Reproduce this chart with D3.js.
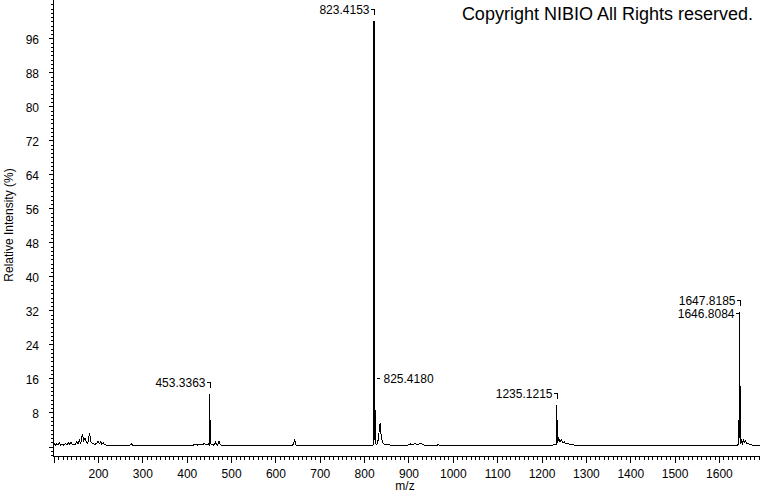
<!DOCTYPE html>
<html>
<head>
<meta charset="utf-8">
<script src="https://cdn.jsdelivr.net/npm/d3@7"></script>
<style>
  body { margin: 0; background: #fff; }
  svg { display: block; font-family: "Liberation Sans", Arial, sans-serif; }
  .axis text { font-size: 12px; fill: #000; }
  .axis line, .axis path { stroke: #000; shape-rendering: crispEdges; }
</style>
</head>
<body>
<div id="chart"></div>
<script>
// Mass spectrum (profile trace)

const width = 760
const height = 492

// trace points: m/z and relative intensity (%)
const traceMz = [
  100, 103, 105, 108, 111, 114, 117, 121, 124, 128, 131, 134, 137, 140, 143, 147, 150, 153, 156, 159,
  162, 166, 169, 172, 175, 178, 182, 185, 188, 191, 194, 198, 201, 204, 207, 210, 213, 216, 220, 230,
  272, 276, 280, 415, 422, 426, 432, 437, 441, 445, 450, 452.8, 453.3, 453.8, 454.3, 454.8, 455.3, 456,
  462, 466, 468, 471, 474, 477, 482, 638, 642, 644.5, 647, 650,
  818, 822.9, 823.4, 823.9, 824.4, 824.9, 825.4, 825.9, 826.4, 827, 830, 833, 835, 837, 839, 841, 843,
  846, 850, 855, 860, 880, 900, 905, 909, 913, 917, 921, 925, 929, 933, 937, 950, 966, 968, 970,
  1225, 1230, 1234.6, 1235.1, 1235.6, 1236.1, 1236.6, 1237.1, 1238, 1240, 1243, 1246, 1249, 1252,
  1256, 1260, 1265, 1270, 1275, 1285,
  1640, 1645, 1646.3, 1646.8, 1647.3, 1647.8, 1648.3, 1648.8, 1649.3, 1649.8, 1650.5, 1652, 1654,
  1656, 1658, 1661, 1664, 1667, 1671, 1680, 1693
]
const traceInt = [
  0.3, 0.6, 0.2, 0.5, 0.3, 0.7, 0.2, 0.4, 0.2, 0.6, 0.3, 0.8, 0.4, 0.9, 0.3, 0.5, 0.3, 1.0, 0.5, 1.4,
  0.6, 2.9, 1.2, 1.9, 0.8, 0.6, 3.0, 1.0, 0.7, 0.5, 0.4, 0.6, 1.2, 0.5, 1.0, 0.4, 0.7, 0.3, 0.2, 0.15,
  0.15, 0.5, 0.15, 0.15, 0.5, 0.2, 0.4, 0.3, 0.6, 0.3, 0.5, 0.2, 12.3, 0.5, 6.0, 0.4, 1.5, 0.3,
  0.2, 1.0, 0.3, 0.2, 1.1, 0.3, 0.15, 0.15, 0.4, 1.6, 0.3, 0.15,
  0.15, 0.3, 100, 2.0, 56, 1.5, 16, 1.0, 4.5, 0.5, 0.4, 1.5, 3.5, 5.3, 3.0, 1.5, 0.8,
  0.5, 0.3, 0.35, 0.2, 0.15, 0.2, 0.5, 0.2, 0.4, 0.6, 0.3, 0.5, 0.7, 0.3, 0.2, 0.15, 0.2, 0.5, 0.15,
  0.15, 0.3, 0.3, 9.6, 0.5, 6.0, 0.8, 2.5, 1.0, 1.9, 1.0, 1.5, 0.8, 1.0,
  0.5, 0.7, 0.3, 0.4, 0.2, 0.15,
  0.15, 0.3, 0.4, 28.5, 3.0, 31.5, 2.0, 14, 1.0, 4.0, 0.5, 1.2, 0.6,
  1.5, 0.8, 1.2, 0.5, 0.7, 0.3, 0.2, 0.15
]

// peak annotations
const labelMz = [453.3363, 823.4153, 825.4180, 1235.1215, 1646.8084, 1647.8185]
const labelInt = [12.3, 100, 16, 9.6, 28.5, 31.5]
const labelSide = ['left', 'left', 'right', 'left', 'left', 'left']

// ticks
const xMajorTicks = d3.range(100, 1700, 100)
const xMinorTicks = d3.range(100, 1700, 10)
const xTickLabels = d3.range(200, 1700, 100)
const yMajorTicks = d3.range(0, 97, 8)
const yMinorTicks = d3.range(-2, 105, 1)

const svg = d3.select('#chart')
  .append('svg')
  .attr('width', width)
  .attr('height', height)

const x = d3.scaleLinear().domain([99.6, 1693.7]).range([53, 760])
const y = d3.scaleLinear().domain([-2.35, 104.9]).range([456, 0])

const axisX = 53.5
const axisY = 456.5

// Y axis
svg.append('g')
  .attr('class', 'axis')
  .attr('transform', `translate(${axisX}, 0.5)`)
  .call(d3.axisLeft(y).tickValues(yMinorTicks).tickSize(3).tickFormat(''))
  .call(g => g.select('.domain').remove())

svg.append('g')
  .attr('class', 'axis')
  .attr('transform', `translate(${axisX}, 0.5)`)
  .call(d3.axisLeft(y).tickValues(yMajorTicks).tickSize(5).tickPadding(9.5)
    .tickFormat(d => d === 0 ? '' : d))
  .call(g => g.select('.domain').remove())
  .call(g => g.selectAll('text').attr('dy', '0.42em'))

svg.append('line')
  .attr('x1', axisX).attr('x2', axisX)
  .attr('y1', 0).attr('y2', axisY + 0.5)
  .attr('stroke', '#000')
  .attr('shape-rendering', 'crispEdges')

// X axis
svg.append('g')
  .attr('class', 'axis')
  .attr('transform', `translate(0.5, ${axisY})`)
  .call(d3.axisBottom(x).tickValues(xMinorTicks).tickSize(3).tickFormat(''))
  .call(g => g.select('.domain').remove())

svg.append('g')
  .attr('class', 'axis')
  .attr('transform', `translate(0.5, ${axisY})`)
  .call(d3.axisBottom(x).tickValues(xMajorTicks).tickSize(6).tickPadding(6.5)
    .tickFormat(d => xTickLabels.includes(d) ? d : ''))
  .call(g => g.select('.domain').remove())

svg.append('line')
  .attr('x1', axisX).attr('x2', width)
  .attr('y1', axisY).attr('y2', axisY)
  .attr('stroke', '#000')
  .attr('shape-rendering', 'crispEdges')

// Axis titles
svg.append('text')
  .text('m/z')
  .attr('x', 405)
  .attr('y', 490)
  .attr('text-anchor', 'middle')
  .style('font-size', '12px')

svg.append('text')
  .text('Relative Intensity (%)')
  .attr('transform', 'translate(13, 225) rotate(-90)')
  .attr('text-anchor', 'middle')
  .style('font-size', '12px')

// Spectrum trace
const line = d3.line()
  .x((d, i) => x(traceMz[i]))
  .y(d => y(d))

svg.append('path')
  .datum(traceInt)
  .attr('d', line)
  .attr('fill', 'none')
  .attr('stroke', '#000')
  .attr('stroke-width', 1)
  .attr('shape-rendering', 'crispEdges')

// Peak labels with brackets
const labels = svg.selectAll('.peak-label')
  .data(labelMz)
  .enter().append('g')
  .attr('class', 'peak-label')

labels.each(function (mz, i) {
  const g = d3.select(this)
  const px = Math.round(x(mz)) + 0.5
  const top = y(labelInt[i])
  if (labelSide[i] === 'left') {
    const ly = Math.round(top - 12) + 0.5
    g.append('path')
      .attr('d', `M${px - 4},${ly}H${px}V${ly + 5}`)
      .attr('fill', 'none')
      .attr('stroke', '#000')
      .attr('shape-rendering', 'crispEdges')
    g.append('text')
      .text(mz.toFixed(4))
      .attr('x', px - 5)
      .attr('y', ly + 4)
      .attr('text-anchor', 'end')
      .style('font-size', '12px')
  } else {
    const ly = Math.round(top) + 0.5
    g.append('path')
      .attr('d', `M${px + 1},${ly}H${px + 4}`)
      .attr('stroke', '#000')
      .attr('shape-rendering', 'crispEdges')
    g.append('text')
      .text(mz.toFixed(4))
      .attr('x', px + 8)
      .attr('y', ly + 4)
      .style('font-size', '12px')
  }
})

// Copyright
svg.append('text')
  .text('Copyright NIBIO All Rights reserved.')
  .attr('x', 753)
  .attr('y', 20)
  .attr('text-anchor', 'end')
  .style('font-size', '18px')
</script>
</body>
</html>
